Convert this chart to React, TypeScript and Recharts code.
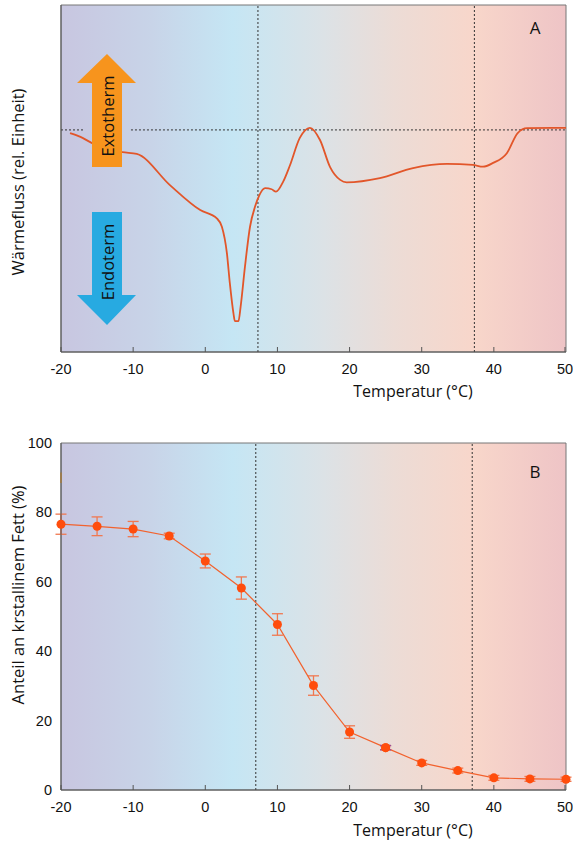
import React from 'react';
import { LineChart, Line, XAxis, YAxis, ReferenceLine, ReferenceArea, ErrorBar } from 'recharts';

// Panel A: DSC curve (temperature °C, relative heat flow)
const dscTemp = [-18.75, -17.3, -15.7, -11.5, -9.5, -4.9, -0.7, 1.6, 2.3, 3.0, 3.4, 3.9, 4.1, 4.6, 4.9, 5.5, 6.2, 6.9, 7.5, 8.3, 9.2, 9.8, 10.8, 11.7, 13.1, 14.5, 15.9, 17.3, 18.7, 19.6, 24.2, 28.8, 33.5, 37.1, 38.5, 39.9, 41.8, 43.3, 44.6, 50];
const dscFlow = [63.1, 62.0, 60.2, 57.6, 57.1, 48.1, 40.9, 38.5, 36.1, 28.4, 19.9, 11.2, 8.9, 8.9, 13.1, 24.6, 36.1, 41.9, 45.2, 47.2, 46.9, 46.2, 49.1, 53.6, 61.7, 64.6, 61.1, 53.3, 49.6, 48.9, 50.1, 53.0, 54.2, 53.9, 53.4, 54.5, 57.3, 63.1, 64.5, 64.6];
const dscBaseline = 64;
const dscMarkers = [7.3, 37.3];

// Panel B: solid fat content with error bars
const sfcTemp = [-20, -15, -10, -5, 0, 5, 10, 15, 20, 25, 30, 35, 40, 45, 50];
const sfcValue = [76.6, 76.0, 75.2, 73.2, 66.0, 58.2, 47.7, 30.1, 16.7, 12.2, 7.8, 5.6, 3.5, 3.2, 3.1];
const sfcError = [2.9, 2.7, 2.2, 0.8, 2.0, 3.2, 3.1, 2.8, 1.8, 0.6, 0.7, 0.7, 0.7, 0.7, 0.6];
const sfcMarkers = [7, 37];
const purpleTemp = 25;

const tempTicks = [-20, -10, 0, 10, 20, 30, 40, 50];
const percentTicks = [0, 20, 40, 60, 80, 100];

const dscData = dscTemp.map((t, i) => ({ t, v: dscFlow[i] }));
const sfcData = sfcTemp.map((t, i) => ({ t, v: sfcValue[i], e: sfcError[i] }));
const purpleData = sfcData.filter((d) => d.t === purpleTemp);

const tickFont = '"Liberation Sans", Arial, sans-serif';
const titleFont = '"Open Sans", "Noto Sans", sans-serif';

const XTick = (props: any) => {
  const { x, y, payload } = props;
  return (
    <g>
      <line x1={x} x2={x} y1={y} y2={y - 5} stroke="#555" />
      <text x={x} y={y + 22} textAnchor="middle" fill="#111" fontSize={14.5} fontFamily={tickFont}>
        {payload.value}
      </text>
    </g>
  );
};

const YTick = (props: any) => {
  const { x, y, payload } = props;
  return (
    <text x={x - 9} y={y + 5} textAnchor="end" fill="#111" fontSize={14.5} fontFamily={tickFont}>
      {payload.value}
    </text>
  );
};

const Gradient = ({ id }: { id: string }) => (
  <defs>
    <linearGradient id={id} x1="0" y1="0" x2="1" y2="0">
      <stop offset="0%" stopColor="#c8c6e0" />
      <stop offset="18%" stopColor="#c8d4e8" />
      <stop offset="34%" stopColor="#c5e6f4" />
      <stop offset="52%" stopColor="#dce2e6" />
      <stop offset="66%" stopColor="#ecdcd6" />
      <stop offset="82%" stopColor="#f8d6ca" />
      <stop offset="100%" stopColor="#eec4c6" />
    </linearGradient>
  </defs>
);

export default function App() {
  return (
    <div style={{ position: 'absolute', left: 0, top: 0, width: 573, height: 843, background: '#fff' }}>
      <div style={{ position: 'absolute', left: 0, top: 0 }}>
        <LineChart width={573} height={400} data={dscData} margin={{ top: 5, right: 7, bottom: 0, left: 0 }}>
          <Gradient id="bgA" />
          <XAxis
            dataKey="t"
            type="number"
            domain={[-20, 50]}
            ticks={tempTicks}
            height={48}
            tickSize={0}
            tickMargin={0}
            tickLine={false}
            tick={<XTick />}
            axisLine={{ stroke: '#555' }}
          />
          <YAxis type="number" domain={[0, 100]} width={61} tick={false} tickLine={false} axisLine={{ stroke: '#555' }} />
          <ReferenceArea x1={-20} x2={50} y1={0} y2={100} fill="url(#bgA)" fillOpacity={1} stroke="#777" />
          {dscMarkers.map((m) => (
            <ReferenceLine key={m} x={m} stroke="#333" strokeDasharray="2 2" />
          ))}
          <ReferenceLine segment={[{ x: -20, y: dscBaseline }, { x: -16.8, y: dscBaseline }]} stroke="#333" strokeDasharray="2 2" />
          <ReferenceLine segment={[{ x: -10.3, y: dscBaseline }, { x: 50, y: dscBaseline }]} stroke="#333" strokeDasharray="2 2" />
          <Line type="monotone" dataKey="v" stroke="#e2562a" strokeWidth={1.8} dot={false} isAnimationActive={false} />
        </LineChart>
      </div>

      <div style={{ position: 'absolute', left: 0, top: 400 }}>
        <LineChart width={573} height={443} data={sfcData} margin={{ top: 43, right: 7, bottom: 0, left: 0 }}>
          <Gradient id="bgB" />
          <XAxis
            dataKey="t"
            type="number"
            domain={[-20, 50]}
            ticks={tempTicks}
            height={53}
            tickSize={0}
            tickMargin={0}
            tickLine={false}
            tick={<XTick />}
            axisLine={{ stroke: '#555' }}
          />
          <YAxis
            type="number"
            domain={[0, 100]}
            ticks={percentTicks}
            width={61}
            tickSize={0}
            tickMargin={0}
            tickLine={false}
            tick={<YTick />}
            axisLine={{ stroke: '#555' }}
          />
          <ReferenceArea x1={-20} x2={50} y1={0} y2={100} fill="url(#bgB)" fillOpacity={1} stroke="#777" />
          {sfcMarkers.map((m) => (
            <ReferenceLine key={m} x={m} stroke="#333" strokeDasharray="2 2" />
          ))}
          <ReferenceLine segment={[{ x: -20, y: 88.5 }, { x: -20, y: 91.5 }]} stroke="#f5a02a" strokeWidth={1.5} />
          <Line
            type="linear"
            dataKey="v"
            stroke="#f2622e"
            strokeWidth={1.2}
            dot={{ r: 4.5, fill: '#ff4d0d', stroke: '#ff4d0d', strokeWidth: 0 }}
            isAnimationActive={false}
          >
            <ErrorBar dataKey="e" width={5.5} stroke="#f07850" strokeWidth={1.3} direction="y" />
          </Line>
          <Line
            data={purpleData}
            type="linear"
            dataKey="v"
            stroke="none"
            dot={{ r: 4.5, fill: '#ff4d0d', stroke: '#ff4d0d', strokeWidth: 0 }}
            isAnimationActive={false}
          >
            <ErrorBar dataKey="e" width={5.5} stroke="#9b4f96" strokeWidth={1.5} direction="y" />
          </Line>
        </LineChart>
      </div>

      <svg width={573} height={843} style={{ position: 'absolute', left: 0, top: 0, pointerEvents: 'none' }}>
        <polygon points="107,54 136,83 122,83 122,167 92,167 92,83 77,83" fill="#f7941d" />
        <polygon points="92,212 122,212 122,295 136,295 107,325 77,295 92,295" fill="#27aae1" />
        <text x={107} y={116} transform="rotate(-90 107 116)" textAnchor="middle" dominantBaseline="central" fontSize={16.5} fontFamily={titleFont} fill="#111">
          Extotherm
        </text>
        <text x={107} y={262} transform="rotate(-90 107 262)" textAnchor="middle" dominantBaseline="central" fontSize={16.5} fontFamily={titleFont} fill="#111">
          Endoterm
        </text>
        <text x={535} y={34} textAnchor="middle" fontSize={17} fontFamily={titleFont} fill="#111">A</text>
        <text x={535} y={478} textAnchor="middle" fontSize={17} fontFamily={titleFont} fill="#111">B</text>
        <text x={17} y={182} transform="rotate(-90 17 182)" textAnchor="middle" dominantBaseline="central" fontSize={16.5} fontFamily={titleFont} fill="#111">
          Wärmefluss (rel. Einheit)
        </text>
        <text x={17} y={595} transform="rotate(-90 17 595)" textAnchor="middle" dominantBaseline="central" fontSize={16.5} fontFamily={titleFont} fill="#111">
          Anteil an krstallinem Fett (%)
        </text>
        <text x={413} y={397} textAnchor="middle" fontSize={16} fontFamily={titleFont} fill="#111">Temperatur (°C)</text>
        <text x={413} y={836} textAnchor="middle" fontSize={16} fontFamily={titleFont} fill="#111">Temperatur (°C)</text>
      </svg>
    </div>
  );
}
